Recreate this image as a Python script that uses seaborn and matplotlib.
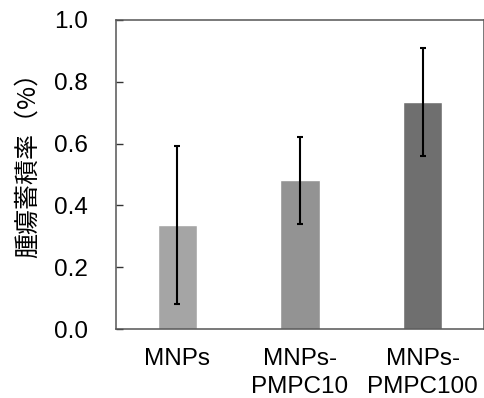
import matplotlib
matplotlib.use("Agg")
import matplotlib.pyplot as plt
import seaborn as sns
import numpy as np
import pandas as pd

categories = ["MNPs", "MNPs-\nPMPC10", "MNPs-\nPMPC100"]
values = [0.336, 0.481, 0.735]
errors = [0.256, 0.140, 0.174]
colors = ["#a5a5a5", "#939393", "#6f6f6f"]
yticks = [0.0, 0.2, 0.4, 0.6, 0.8, 1.0]
ylabel = "腫瘍蓄積率（%）"

sns.set_style("white")
plt.rcParams['font.family'] = ['Liberation Sans', 'Noto Sans CJK SC', 'DejaVu Sans']
plt.rcParams['text.color'] = 'black'
plt.rcParams['axes.labelcolor'] = 'black'
plt.rcParams['xtick.color'] = 'black'
plt.rcParams['ytick.color'] = 'black'

fig = plt.figure(figsize=(4.85, 3.98), dpi=100)
ax = fig.add_axes([116/485, 1-329/398, 368/485, 309/398])

df = pd.DataFrame({"cat": categories, "val": values})
sns.barplot(data=df, x="cat", y="val", hue="cat", palette=colors, legend=False,
            width=0.32, errorbar=None, saturation=1, ax=ax)
pos = np.arange(len(categories))
ax.errorbar(pos, values, yerr=errors, fmt="none", ecolor="black",
            elinewidth=1.5, capsize=2.5, capthick=1.5)

ax.set_xlim(-0.5, 2.5)
ax.set_ylim(0, 1.0)
ax.set_yticks(yticks)
ax.set_yticklabels([f"{t:.1f}" for t in yticks])
ax.tick_params(axis="y", direction="in", length=5, width=1, color="#333333",
               labelcolor="black", labelsize=17.5, pad=20, left=True)
ax.tick_params(axis="x", length=0, labelsize=17.5, labelcolor="black", pad=14)
for lbl in ax.get_xticklabels():
    lbl.set_linespacing(1.3)
ax.set_xlabel("")
ax.set_ylabel(ylabel, fontsize=18, color="black",
              family=['Noto Sans CJK JP', 'DejaVu Sans'])
ax.yaxis.set_label_coords(-0.205, 0.55)
for s in ax.spines.values():
    s.set_visible(True)
    s.set_color("#555555")
    s.set_linewidth(1.1)

fig.savefig("out.png", dpi=100)
